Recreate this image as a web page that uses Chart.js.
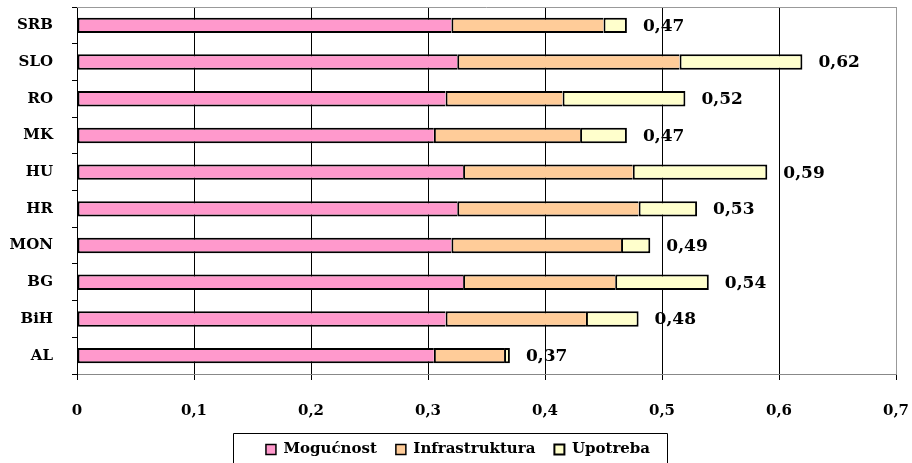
<!DOCTYPE html>
<html>
<head>
<meta charset="utf-8">
<title>Mogućnost / Infrastruktura / Upotreba</title>
<script src="https://cdn.jsdelivr.net/npm/chart.js@4/dist/chart.umd.min.js"></script>
<style>
  html, body { margin: 0; padding: 0; background: #fff; }
  #wrap { width: 912px; height: 463px; position: relative; }
</style>
</head>
<body>
<div id="wrap"><canvas id="myBarChart"></canvas></div>
<script>
// data
var countries = ['SRB', 'SLO', 'RO', 'MK', 'HU', 'HR', 'MON', 'BG', 'BiH', 'AL'];
var mogucnost = [0.32, 0.325, 0.315, 0.305, 0.33, 0.325, 0.32, 0.33, 0.315, 0.305];
var infrastruktura = [0.13, 0.19, 0.10, 0.125, 0.145, 0.155, 0.145, 0.13, 0.12, 0.06];
var upotreba = [0.02, 0.105, 0.105, 0.04, 0.115, 0.05, 0.025, 0.08, 0.045, 0.005];
var totals = [0.47, 0.62, 0.52, 0.47, 0.59, 0.53, 0.49, 0.54, 0.48, 0.37];
var xTicks = [0, 0.1, 0.2, 0.3, 0.4, 0.5, 0.6, 0.7];

var serif = "'DejaVu Serif', 'Liberation Serif', serif";
Chart.defaults.color = '#000';
Chart.defaults.font.family = serif;

function comma(v) {
    return String(v).replace('.', ',');
}

// total labels at the end of each bar + borders of the plot + box round legend
var extras = {
    id: 'extras',
    afterLayout: function(chart) {
        // legend sits a little right of the canvas centre
        chart.legend.left += 20;
    },
    afterDatasetsDraw: function(chart) {
        var ctx = chart.ctx;
        var x = chart.scales.x, y = chart.scales.y;
        ctx.save();
        ctx.font = 'bold 17px ' + serif;
        ctx.fillStyle = '#000';
        ctx.textAlign = 'left';
        ctx.textBaseline = 'middle';
        totals.forEach(function(t, i) {
            ctx.fillText(t.toFixed(2).replace('.', ','), x.getPixelForValue(t) + 16, y.getPixelForValue(i) + 1);
        });
        ctx.restore();
    },
    afterDraw: function(chart) {
        var ctx = chart.ctx;
        var a = chart.chartArea;
        ctx.save();
        ctx.strokeStyle = '#999';
        ctx.lineWidth = 1;
        ctx.beginPath();
        ctx.moveTo(a.left, a.top + 0.5);
        ctx.lineTo(a.right, a.top + 0.5);
        ctx.stroke();
        // legend frame
        var boxes = chart.legend.legendHitBoxes;
        if (boxes && boxes.length) {
            var first = boxes[0], last = boxes[boxes.length - 1];
            var l = Math.round(first.left - 33) + 0.5;
            var r = Math.round(last.left + last.width + 17) + 0.5;
            var t = Math.round(first.top + first.height / 2 - 17) + 0.5;
            ctx.strokeStyle = '#000';
            ctx.beginPath();
            ctx.moveTo(l, chart.height + 2);
            ctx.lineTo(l, t);
            ctx.lineTo(r, t);
            ctx.lineTo(r, chart.height + 2);
            ctx.stroke();
        }
        ctx.restore();
    }
};

var ctx = document.getElementById('myBarChart').getContext('2d');
var myChart = new Chart(ctx, {
    type: 'bar',
    data: {
        labels: countries,
        datasets: [{
            label: 'Mogućnost',
            data: mogucnost,
            backgroundColor: '#FF99CC',
            borderColor: '#000',
            borderWidth: {left: 2, top: 2, bottom: 2, right: 0}
        }, {
            label: 'Infrastruktura',
            data: infrastruktura,
            backgroundColor: '#FFCC99',
            borderColor: '#000',
            borderWidth: {left: 2, top: 2, bottom: 2, right: 0}
        }, {
            label: 'Upotreba',
            data: upotreba,
            backgroundColor: '#FFFFCC',
            borderColor: '#000',
            borderWidth: 2
        }]
    },
    options: {
        indexAxis: 'y',
        responsive: true,
        maintainAspectRatio: false,
        animation: false,
        datasets: {
            bar: {
                borderSkipped: false,
                categoryPercentage: 1,
                barPercentage: 0.42
            }
        },
        layout: {
            padding: {top: 7, right: 16, bottom: -4, left: 0}
        },
        plugins: {
            tooltip: {enabled: false},
            legend: {
                position: 'bottom',
                labels: {
                    boxWidth: 10,
                    boxHeight: 10,
                    padding: 19,
                    color: '#000',
                    font: {size: 15, weight: 'bold', family: serif}
                }
            }
        },
        scales: {
            x: {
                stacked: true,
                min: 0,
                max: 0.7,
                afterBuildTicks: function(scale) {
                    scale.ticks = xTicks.map(function(v) { return {value: v}; });
                },
                afterFit: function(scale) {
                    scale.height = 49;
                    scale.paddingLeft = 0;
                    scale.paddingRight = 0;
                },
                border: {color: '#888', width: 1},
                grid: {
                    color: function(c) {
                        if (c.index === 0) return 'rgba(0,0,0,0)';
                        if (c.index === xTicks.length - 1) return '#999';
                        return '#000';
                    },
                    tickColor: '#000',
                    tickLength: 6,
                    lineWidth: 1
                },
                ticks: {
                    padding: 22,
                    maxRotation: 0,
                    font: {size: 15, weight: 'bold', family: serif},
                    callback: function(v) { return comma(v); }
                }
            },
            y: {
                stacked: true,
                afterFit: function(scale) {
                    scale.width = 77;
                    scale.paddingTop = 0;
                    scale.paddingBottom = 0;
                },
                border: {color: '#000', width: 1},
                grid: {
                    drawOnChartArea: false,
                    offset: true,
                    color: '#000',
                    tickLength: 5
                },
                ticks: {
                    padding: 19,
                    font: {size: 15, weight: 'bold', family: serif}
                }
            }
        }
    },
    plugins: [extras]
});
</script>
</body>
</html>
